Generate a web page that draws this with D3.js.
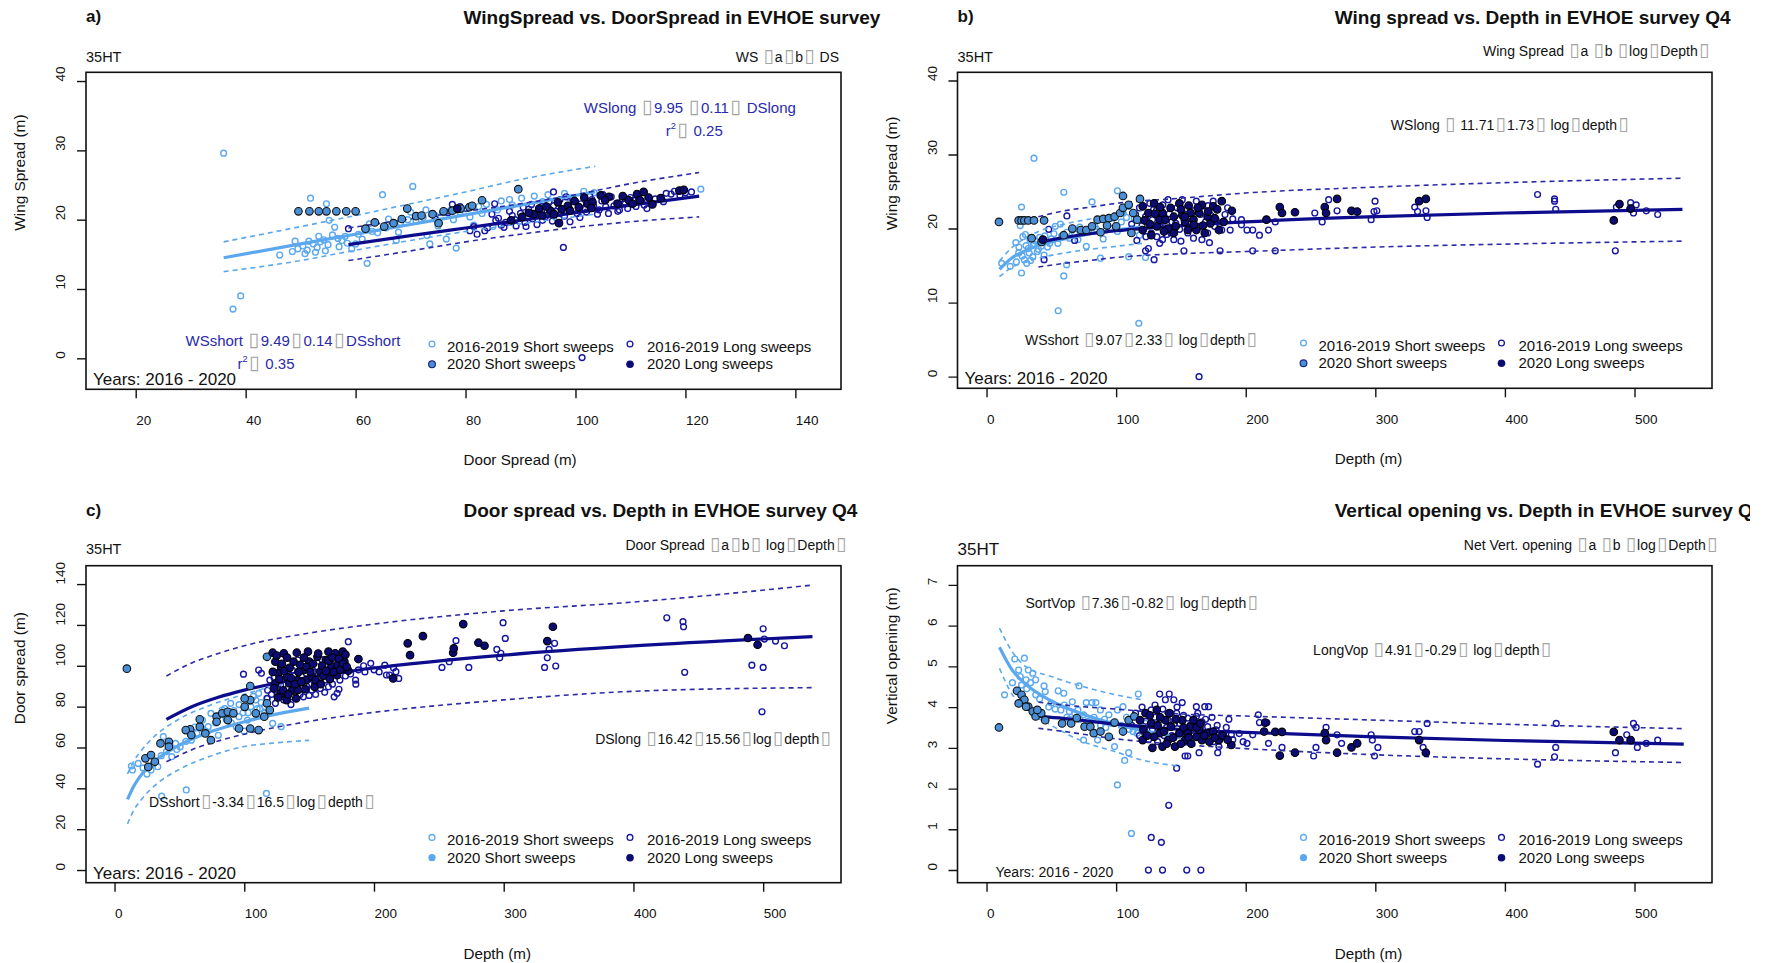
<!DOCTYPE html>
<html>
<head>
<meta charset="utf-8">
<script src="https://cdn.jsdelivr.net/npm/d3@7"></script>
<style>
  body { margin: 0; background: #fff; }
  svg { display: block; font-family: "Liberation Sans", Arial, sans-serif; }
  .tofu { font-family: "DejaVu Sans"; fill: #a3a3a3; font-size: 1.3em; }
</style>
</head>
<body>
<svg id="fig" width="1765" height="963"></svg>
<script>
// ---- ticks
const doorTicks = [20, 40, 60, 80, 100, 120, 140];
const depthTicks = [0, 100, 200, 300, 400, 500];
const wsTicks = [0, 10, 20, 30, 40];
const dsTicks = [0, 20, 40, 60, 80, 100, 120, 140];
const voTicks = [0, 1, 2, 3, 4, 5, 6, 7];

const legendLabels = ['2016-2019 Short sweeps', '2016-2019 Long sweeps', '2020 Short sweeps', '2020 Long sweeps'];

// ---- a) wing spread vs door spread  [door, wing]
const aShort1619 = [[36,29.6],[37.7,7.1],[39.1,9.0],[46.2,14.9],[48.5,15.4],[49.5,15.8],[50.4,16.2],[51.2,15.6],[51.8,23.1],[52.3,16.5],[53.0,16.0],[53.6,16.8],[54.2,17.1],[54.7,22.3],[55.2,19.9],[55.0,16.4],[56.2,18.9],[56.8,17.3],[57.5,17.0],[58.1,17.6],[59.3,15.8],[60.5,17.9],[62.1,13.7],[63.0,18.3],[64.9,23.6],[65.5,18.8],[66.5,19.2],[67.4,17.0],[68.2,19.6],[69.5,20.0],[70.4,24.8],[71.0,19.8],[72.3,20.3],[73.0,17.7],[73.5,16.5],[74.5,20.6],[75.8,21.0],[76.5,17.2],[77.2,21.3],[78.3,15.9],[79.0,21.1],[80.2,21.6],[81.5,19.2],[82.4,21.9],[83.8,22.2],[85.0,19.0],[86.5,22.7],[88.0,22.9],[90.2,23.1],[92.5,23.4],[95.0,23.6],[98.0,23.8],[101.5,24.1],[103.4,23.9],[122.8,24.4],
  [49,16.9],[50.8,15.1],[51.5,16.9],[52.7,15.3],[53.3,17.6],[54.5,15.5],[55.8,17.8],[57,16.1],[58.5,16.6],[60,16.5],[61.2,17.2],[62.5,19.4],[64,18.1],[66,20.1],[67.8,18.2],[70,21.1],[72.8,21.4],[75,19.1],[77.8,20.0],[80.8,20.4],[83,20.9],[85.8,21.4],[88.5,22.1],[94,22.6],[99,23.1]];
const aLong1619 = [[58.7,18.7],[74.5,20.1],[76.8,21.0],[77.6,22.2],[79,21.9],[80.8,18.4],[81.5,19.0],[82.1,17.9],[83.5,18.4],[84,18.8],[84.8,20.8],[85.3,22.3],[85.5,19.9],[86.5,19.2],[87.3,19.6],[88.5,20.6],[89.2,19.1],[90,20.9],[90.8,19.6],[91.5,21.5],[92.2,20.1],[93,19.3],[93.8,21.9],[94.5,20.4],[95.2,22.6],[95.8,19.8],[96,24.0],[96.5,21.2],[97.2,22.9],[97.8,16.0],[98,20.5],[98.8,21.8],[99.5,23.0],[100.3,20.9],[101,22.3],[101.2,0.1],[101.8,21.5],[102.6,23.4],[103.3,22.0],[104,20.8],[104.8,22.7],[105.5,21.9],[106.5,23.3],[107.5,22.4],[107.7,21.2],[108.5,23.0],[109.5,21.6],[110.5,22.8],[111.5,23.4],[112.5,22.1],[116.5,23.8],[117.4,23.7],[118.0,24.1],[120.0,23.9],[121.1,24.0],
  [86,20.2],[87,18.9],[88,21.2],[89,20.0],[90.5,21.8],[91,19.0],[92,22.2],[93.3,20.7],[94,19.9],[94.8,21.4],[96,22.0],[97,20.1],[98.3,23.3],[99,19.7],[100,22.6],[100.8,20.3],[102,21.1],[103,22.9],[104.3,21.4],[105,23.6],[106,20.9],[107,22.0],[108,21.4],[109,22.5],[110,23.2],[111,21.9],[112,22.7],[113,21.6],[114.5,23.0],[116,22.6],[119,23.5]];
const aShort20 = [[49.6,21.2],[51.6,21.2],[53.3,21.2],[54.7,21.2],[56.5,21.2],[58.3,21.2],[60.0,21.2],[61.8,18.7],[63.5,19.6],[65.2,19.0],[66.9,19.5],[68.4,20.1],[69.4,21.6],[71.0,20.5],[72.0,20.6],[74.0,20.8],[75.1,19.5],[76.0,21.2],[77.6,21.3],[79.1,21.6],[80.7,21.8],[81.2,22.0],[83.0,22.8],[89.6,24.4]];
const aLong20 = [[78.5,21.6],[88.3,19.9],[90.3,20.4],[92.4,20.8],[93.4,21.6],[93.9,20.6],[95.4,21.3],[96.1,20.8],[97.0,19.5],[97.5,21.5],[98.6,22.0],[99.0,21.3],[100.6,21.8],[101.6,23.2],[102.2,22.3],[103.1,22.5],[104.6,23.5],[106.1,23.3],[107.7,22.3],[109.7,22.8],[111.2,23.7],[111.7,22.8],[113.3,23.2],[114.0,22.2],[118.9,24.2],[119.7,24.3],
  [91.5,21.0],[94.7,21.9],[96.8,22.5],[99.8,22.7],[102.9,21.7],[105.4,22.8],[108.6,23.4],[110.4,22.3],[112.4,24.0],[115.5,23.1]];
// fitted lines: [x, lower, fit, upper]
const aFitShort = [[36,12.5,14.5,16.8],[50,14.1,16.5,19.0],[60,15.6,17.9,20.6],[70,17.0,19.3,22.3],[80,18.3,20.7,24.0],[90,19.4,22.1,25.8],[103.6,20.8,24.0,27.7]];
const aFitLong = [[58.7,14.1,16.4,18.8],[70,15.5,17.7,20.1],[80,16.8,18.8,21.2],[90,17.9,19.9,22.3],[100,18.9,21.0,23.6],[110,19.7,22.1,25.2],[122.5,20.4,23.4,26.8]];

// ---- b) wing spread vs depth  [depth, wing]
const bShort1619 = [[36.6,29.5],[55.3,8.9],[117.5,7.2],[59.6,24.9],[101,25.1],[81.4,23.6],[59.6,13.6],[27,14.0],[22.6,18.1],[27,22.9],[11.7,15.3],[24.8,16.7],[29.2,15.8],[32.2,17.3],[35.7,16.2],[18.3,14.9],[39.2,16.9],[42.2,17.6],[33.5,18.5],[44.4,16.4],[61.8,15.1],[87.9,16.0],[109.7,16.2],[122.7,16.1],[66.2,19.8],[74.9,19.4],[83.6,20.3],[92.3,19.8],[96.6,20.7],[105.3,22.1],[109.7,23.0],[101,19.6],[70.5,18.5],[77,17.6],[48.7,18.0],[26,20.4],[30,19.2],[37,17.9],[52,19.3],[57,20.6],[64,18.7],[90,18.6],[114,21.4],[118,19.1],
  [23,15.5],[25,17.5],[27.5,16.3],[28,18.9],[30.5,17.7],[31,15.3],[33,16.7],[34,15.7],[36,17.8],[38,18.3],[40,17.2],[41,18.8],[45,19.0],[47,17.5],[50,18.6],[53,20.3],[55,18.0],[58,19.0],[62,19.5],[68,19.3],[72,20.2],[79,19.6],[85,19.9],[95,20.1],[104,20.9],[108,21.5],[112,20.0]];
const bLong1619 = [[164,0],[44.4,15.8],[122.7,17.0],[129.3,15.8],[152.3,17.0],[180.2,17.0],[205.4,17.0],[222.8,17.0],[485.2,17.0],[196.7,21.2],[205.4,19.8],[210.6,19.1],[217.6,19.8],[222.8,20.9],[253.3,22.1],[259,20.9],[270.5,22.4],[264,23.9],[296.8,21.2],[299,22.3],[299.8,23.7],[301.2,22.4],[330.4,22.9],[332.6,22.3],[339.1,22.4],[340,21.5],[425.2,24.6],[438.3,24.0],[439.2,22.6],[438.3,23.7],[486,22.9],[497,23.5],[499.2,22.1],[501.3,23.2],[509.1,22.4],[517.9,21.9],[122.7,21.6],[127.1,19.4],[131.4,18.9],[135.8,18.5],[140.1,23.9],[144.5,18.5],[151,23.9],[155.3,19.4],[159.7,18.7],[166.2,18.5],[170.6,19.4],[177.1,21.2],[181.5,19.8],[188,19.8],[124.9,17.3],[133.6,18.0],[142.3,19.4],[161.9,23.7],[174.9,23.7],[196.7,20.5],[201,19.8],[129,22.6],[137,21.0],[146,20.7],[158,21.6],[168,22.3],[176,20.3],[184,21.9],[62,21.7],[48,19.9],[68,18.4],
  [112,20.6],[115,21.9],[118,22.8],[120,20.4],[123,18.9],[126,23.4],[128,21.2],[131,22.4],[134,20.2],[136,23.2],[139,19.2],[141,22.0],[143,20.9],[147,22.8],[149,19.9],[152,21.4],[154,22.7],[156,20.6],[160,22.4],[163,20.1],[165,21.9],[169,20.9],[171,23.1],[173,21.8],[178,22.7],[180,20.7],[186,22.8],[190,21.3],[116,18.4],[150,18.3],[172,18.1]];
const bShort20 = [[9.6,20.9],[24.8,21.1],[27,21.1],[29.2,21.1],[32.2,21.1],[36.6,21.1],[44.4,21.1],[34.8,18.7],[42.5,18.2],[59.6,19.1],[66.2,20.0],[72.7,19.8],[77,19.8],[81.4,20.3],[85.7,21.2],[90.1,21.3],[94.4,21.4],[98.8,21.6],[103.1,22.1],[105.3,22.8],[109.7,23.2],[113.2,22.1],[116.2,21.2],[105.3,24.4],[118.4,24.0],[111.8,19.4],[88,19.5],[100,20.3],[93,20.4]];
const bLong20 = [[120.5,23.0],[124.9,22.1],[129.3,23.4],[133.6,21.2],[135.8,22.1],[140.1,20.0],[144.5,21.6],[148.8,23.4],[153.2,20.9],[157.5,22.1],[161.9,19.8],[166.2,23.2],[170.6,21.6],[174.9,23.0],[179.3,19.8],[181.5,23.7],[189.3,22.4],[120.5,19.8],[127.1,19.1],[144.5,19.4],[155.3,19.8],[168.4,19.4],[131.4,20.3],[138,21.2],[151,21.8],[159.7,21.2],[164,22.1],[172.7,20.7],[226.3,22.9],[228,22.1],[238,22.2],[261,22.9],[262,22.1],[270.5,24.0],[281.6,22.4],[286,22.3],[333.8,23.7],[339,24.0],[484,21.1],[488.4,23.3],[497,22.7],[43.5,18.5],[216,21.2],
  [122,21.1],[126,20.6],[130,22.0],[134,22.9],[137,19.6],[142,22.8],[146,20.3],[150,22.6],[153,21.6],[156,23.1],[160,20.5],[163,22.8],[167,20.4],[171,22.3],[176,21.4],[178,22.6],[183,20.9]];
const bFitShort = [[10,13.5,14.5,15.6],[20,14.8,16.1,17.5],[30,15.5,17.0,18.7],[40,16.0,17.7,19.6],[60,16.7,18.6,20.6],[80,17.2,19.3,21.3],[100,17.6,19.8,21.9],[120,18.0,20.2,22.4]];
const bFitLong = [[40,14.8,18.1,21.6],[60,15.3,18.8,22.4],[80,15.7,19.3,22.9],[100,16.1,19.7,23.4],[150,16.6,20.4,24.1],[200,16.9,20.9,24.8],[300,17.5,21.6,25.6],[400,17.9,22.1,26.2],[537,18.3,22.6,26.8]];

// ---- c) door spread vs depth  [depth, door]
const cShort1619 = [[13,50.9],[55.3,39.2],[36.3,36.2],[117.1,37.5],[33.3,50.6],[44.1,55.5],[50.6,60.4],[63.5,66.9],[67.8,73.4],[74.3,76.7],[83,78.3],[89.5,81.6],[95.9,75.1],[102.4,73.4],[108.9,83.2],[111.1,86.5],[115.4,76.7],[128.4,70.2],[121.9,71.8],[37.6,65.3],[59.2,63.6],[72.2,70.2],[93.8,70.2],[13.8,49],[18.2,52.2],[28.1,49.0],[25,47],[40,58],[47,62],[55,63],[62,70],[70,68],[78,72],[86,74],[92,78],[99,77],[105,80],[112,79],[118,84],[100,68],[80,66],
  [85,79],[90,72],[96,81],[103,77],[107,85],[110,79],[113,82],[116,80],[68,69],[58,68],[48,59],[36,56],[30,52],[22,50]];
const cLong1619 = [[99.4,95.9],[111.1,97.9],[113.2,96.3],[117.5,84.0],[124,81.6],[130.5,83.2],[137,84.8],[145.6,84.8],[152.1,88.1],[158.6,88.9],[164.9,89.7],[169.3,84.8],[171.6,86.5],[173.7,93],[180.2,111.8],[185.8,93],[197.5,101.2],[208.3,100.3],[209.6,95.5],[216.9,97.1],[219.1,93.8],[252.4,99.2],[258,102],[263.2,112.3],[273.1,99.2],[294.7,108],[296.9,103.9],[297.8,106.1],[299.5,121.1],[301.2,113.4],[331.5,99.2],[333.6,103.9],[335,108],[339.2,111],[340.1,99.9],[425.7,123.5],[438.2,121.6],[438.6,119.1],[439.5,96.8],[491.3,100.3],[499.1,77.5],[500,118.1],[500,99.2],[509.5,112.1],[516.4,109.8],[500.9,113.1],[119.7,93],[137,97.9],[147.8,96.3],[156.4,99.5],[162.9,93],[141.3,102.8],[124,88.1],[171.6,105.2],[128,90.5],[133,96],[150,91],[160,96],[167,100.5],[176,98],
  [118,88],[121,86],[123,94],[126,91],[129,85],[131,99],[134,89.5],[136,81],[138,95],[141,90],[143,86],[146,99],[148,90],[150,85.5],[153,97],[155,86],[157,92],[160,103],[162,87],[165,96],[168,91],[170,98],[173,88.5],[175,102],[178,95],[182,96],[188,98],[192,100],[200,98],[204,97],[212,95.5],[186,91],[193,97],[215,99]];
const cShort20 = [[9.5,98.6],[23.8,54.7],[28.1,56.3],[31.1,53.0],[35.4,62.0],[41.9,62.8],[58.3,68.9],[65.7,70.2],[74.3,63.6],[78.7,75.1],[83,76.7],[87.3,77.5],[91.6,76.7],[95.9,69.3],[100.3,79.9],[104.6,69.3],[108.9,76.7],[111.1,68.5],[115.4,75.1],[117.5,81.6],[119.7,78.3],[104.6,83.2],[100.3,84.0],[117.5,104.4],[104.6,90.1],[65.7,73.8],[54.9,68.5],[78.7,72.6],[87.3,73.4],[70,66.9],[59.2,66.1],[41.9,60.4],[26,50.5]];
const cLong20 = [[121.9,106.4],[124,102],[128.4,99.5],[132.7,94.6],[124,91.4],[128.4,86.5],[132.7,83.2],[137,88.1],[141.3,93],[140.5,106.4],[145.6,97.9],[150,102],[154.3,89.7],[158.6,97.1],[162.9,102.8],[167.2,99.5],[171.6,95.4],[175.9,106.9],[177.2,102],[126.2,96.3],[134.8,91.4],[147.8,93],[156.4,104.4],[164.9,106.9],[170.1,106.1],[149.1,106.9],[130.5,106.1],[141.3,88.1],[152.1,94.6],[180.2,97.6],[188,103.3],[214.8,93.8],[226,111],[227.8,105.2],[237.7,114.5],[261,106.4],[261.5,108.5],[268.8,120.4],[280.5,111.3],[285.2,109.8],[333.6,112.1],[337.9,119.1],[488.3,113.6],[495.7,110.3],
  [122,97],[123,89],[125,105],[126,84.5],[127,93.5],[129,101],[130,88],[131,97.5],[133,104],[134,86],[135,99],[136,94],[138,102],[139,91],[140,84],[142,97],[143,100.5],[144,92],[146,104],[147,88.5],[148,99.5],[151,97],[153,101],[155,93],[157,106],[159,91],[160,100],[161,95],[163,97.5],[165,102.5],[166,93.5],[168,104],[169,97],[172,100.5],[173,103.5],[174,98],[176,101],[178,105.5],[179,99.5]];
const cFitShort = [[10,22.6,34.6,47],[15,29.5,41.3,53.5],[20,34.0,46.1,58.0],[30,40.8,52.8,65],[50,49.3,61.2,74],[75,56.0,67.9,81],[100,60.5,72.6,86],[120,62.0,75.7,89.5],[150,63.5,79.3,93]];
const cFitLong = [[40,53,73.8,95],[60,59,80.1,101.5],[80,63.2,84.6,106],[100,66.5,88.1,109.8],[150,72.8,94.4,116],[200,77.2,98.9,120.4],[300,83.3,105.2,126.9],[400,87.5,109.7,131.2],[538,89.3,114.3,139.5]];

// ---- d) vertical opening vs depth  [depth, opening]
const dShort1619 = [[13.9,4.30],[21.8,5.18],[29.2,5.20],[24.8,4.91],[32.2,4.91],[35.7,4.83],[30.5,4.67],[27,4.54],[37.9,4.67],[44.4,4.52],[45.3,4.38],[55.3,4.40],[59.6,4.34],[71.4,4.52],[66.2,4.13],[77,4.11],[81.4,4.11],[84.4,4.11],[57.4,3.93],[63.9,3.89],[70.5,3.93],[74.9,3.81],[87.9,3.93],[94.4,3.81],[101,3.93],[105.3,4.01],[117.1,4.32],[101,2.09],[106.6,2.69],[109.7,2.88],[98.8,3.03],[74.9,3.19],[85.7,3.19],[111.8,0.90],[122.7,3.60],[116.2,3.36],[50,4.1],[64,3.7],[80,3.6],[92,3.5],[110,3.45],
  [20,4.6],[26,4.75],[31,4.45],[34,4.6],[38,4.3],[41,4.2],[48,4.0],[53,3.95],[60,4.05],[62,3.75],[68,3.85],[72,3.7],[78,3.65],[83,3.75],[88,3.55],[91,3.7],[97,3.6],[104,3.55],[108,3.75],[113,3.4],[119,3.5]];
const dLong1619 = [[124.9,0],[135.8,0],[154.5,0],[165.4,0],[127.1,0.80],[134.9,0.68],[140.6,1.59],[146.7,2.50],[153.2,2.80],[155.3,2.80],[133.6,4.32],[141,4.32],[138,4.18],[144.5,4.18],[151,4.11],[161.9,4.01],[168.4,4.01],[171.4,4.01],[127.1,3.93],[131.4,3.56],[140.1,3.68],[146.7,3.85],[155.3,3.73],[161.9,3.77],[166.2,3.64],[170.6,3.52],[177.1,3.44],[179.3,3.03],[178.4,2.88],[164,2.88],[187,3.70],[188.9,3.32],[201,3.11],[205.4,3.32],[209.7,3.81],[210.6,3.62],[216.3,3.62],[217.6,3.11],[228,3.01],[252.4,2.80],[254.2,3.01],[262,3.50],[270.5,3.32],[274,3.11],[296.8,3.32],[297.7,3.19],[299.4,2.80],[302,3.01],[330.4,3.40],[333.8,3.40],[336.9,3.01],[340,3.60],[425.2,2.60],[438.3,2.78],[439.2,3.01],[439.6,3.60],[485.3,2.88],[494,3.32],[499.2,3.60],[501.3,3.50],[502.2,3.01],[509.1,3.11],[517.9,3.19],[122,3.4],[130,3.75],[137,3.3],[149,3.6],[158,3.45],[174,3.75],[183,3.35],
  [112,3.55],[115,3.85],[118,3.3],[120,4.0],[123,3.65],[125,3.2],[128,3.45],[130,4.05],[132,3.15],[134,3.7],[136,3.95],[139,3.5],[142,3.85],[143,3.3],[145,3.6],[147,4.0],[150,3.35],[152,3.8],[154,3.15],[157,3.55],[160,3.3],[163,3.85],[165,3.5],[167,3.2],[169,3.7],[172,3.4],[175,3.15],[178,3.55],[181,3.3],[185,3.5],[190,3.2],[195,3.35],[198,3.15]];
const dShort20 = [[9.6,3.50],[23.5,4.40],[27,4.30],[29.2,4.18],[32.2,4.01],[35.7,3.89],[37.9,3.77],[42.2,3.85],[45.3,3.68],[58.3,3.60],[65.3,3.60],[69.6,3.73],[75.7,3.52],[80.1,3.52],[82.7,3.36],[87.9,3.40],[94.4,3.27],[98.8,3.62],[105.3,3.40],[109.7,3.68],[114,3.77],[24.8,4.09],[30.5,4.01],[39.2,3.93]];
const dLong20 = [[118.4,3.68],[122.7,3.85],[127.1,3.60],[131.4,3.93],[133.6,3.36],[135.8,3.03],[138,3.68],[142.3,3.52],[145.4,3.03],[148.8,3.36],[153.2,3.19],[157.5,3.52],[161.9,3.27],[166.2,3.19],[170.6,3.36],[179.3,3.19],[188.9,3.07],[120.5,3.19],[129.3,3.27],[140.1,3.19],[151,3.68],[155.3,3.36],[159.7,3.68],[164,3.44],[174.9,3.40],[215,3.62],[222.8,3.39],[226.3,2.81],[228,3.39],[238,2.88],[261,3.36],[262,3.19],[270.5,2.88],[281.6,3.01],[286,3.11],[333.8,3.19],[339,2.88],[484,3.39],[488.4,3.19],[497,3.19],[214.2,3.40],
  [121,3.45],[124,3.3],[126,3.8],[128,3.0],[132,3.55],[134,3.75],[137,3.4],[139,3.1],[141,3.85],[144,3.25],[146,3.7],[150,3.1],[152,3.5],[156,3.25],[158,3.1],[162,3.5],[165,3.6],[168,3.3],[172,3.15],[176,3.25],[182,3.3],[186,3.2]];
const dFitShort = [[10,4.95,5.47,5.94],[20,4.3,4.90,5.35],[30,3.95,4.57,5.0],[50,3.55,4.15,4.75],[75,3.15,3.82,4.5],[100,2.9,3.58,4.3],[120,2.7,3.43,4.18],[150,2.55,3.25,null]];
const dFitLong = [[40,3.48,3.77,4.12],[60,3.40,3.72,4.05],[100,3.22,3.58,3.95],[150,3.08,3.45,3.83],[200,2.98,3.38,3.78],[300,2.83,3.27,3.68],[400,2.73,3.18,3.58],[538,2.64,3.09,3.47]];

// ---- styling
const col = {
  light: '#5ba8ee',
  navy: '#1616a2',
  fill20s: '#4a8fd6',
  fill20l: '#0b0b72',
  fitLong: '#0c0c8c',
  dashLong: '#2b2ba8',
  eqBlue: '#2a2aac'
};

const panels = [
  { left: 86, right: 841, top: 72.3, bottom: 389.3, clipX: [0, 882.5],
    xDom: [10.96, 148.3], yDom: [-4.47, 41.26], xTicks: doorTicks, yTicks: wsTicks,
    tag: 'a)', title: 'WingSpread vs. DoorSpread in EVHOE survey Q4',
    model: 'WS □a□b□ DS', modelDx: -2, modelDy: -10.6, modelSize: 14,
    htDy: -10.6, htSize: 14.5, years: { dx: 7, dy: -4, size: 17 },
    xTitle: 'Door Spread (m)', yTitle: 'Wing Spread (m)',
    pts: [aShort1619, aLong1619, aShort20, aLong20], fits: [aFitShort, aFitLong], leg20short: 'outline',
    notes: [
      { t: 'WSlong □9.95 □0.11□ DSlong', x: 120.8, y: 35.4, a: 'middle', s: 15, c: col.eqBlue },
      { t: '□ 0.25', sup: true, x: 121.6, y: 32.0, a: 'middle', s: 15, c: col.eqBlue },
      { t: 'WSshort □9.49□0.14□DSshort', x: 48.6, y: 1.8, a: 'middle', s: 15, c: col.eqBlue },
      { t: '□ 0.35', sup: true, x: 43.7, y: -1.5, a: 'middle', s: 15, c: col.eqBlue }
    ] },
  { left: 957.5, right: 1712, top: 72.3, bottom: 388.3, clipX: [882.5, 1750],
    xDom: [-22.4, 559.8], yDom: [-1.57, 41.1], xTicks: depthTicks, yTicks: wsTicks,
    tag: 'b)', title: 'Wing spread vs. Depth in EVHOE survey Q4',
    model: 'Wing Spread □a □b □log□Depth□', modelDx: -3, modelDy: -16.5, modelSize: 14,
    htDy: -10.6, htSize: 14.5, years: { dx: 7, dy: -4, size: 17 },
    xTitle: 'Depth (m)', yTitle: 'Wing spread (m)',
    pts: [bShort1619, bLong1619, bShort20, bLong20], fits: [bFitShort, bFitLong], leg20short: 'outline',
    notes: [
      { t: 'WSlong □ 11.71□1.73□ log□depth□', x: 312, y: 33.3, a: 'start', s: 14, c: '#111' },
      { t: 'WSshort □9.07□2.33□ log□depth□', x: 29.7, y: 4.3, a: 'start', s: 14, c: '#111' }
    ] },
  { left: 86, right: 841, top: 565.7, bottom: 882.7, clipX: [0, 882.5],
    xDom: [-22, 560], yDom: [-6.2, 149], xTicks: depthTicks, yTicks: dsTicks,
    tag: 'c)', title: 'Door spread vs. Depth in EVHOE survey Q4',
    model: 'Door Spread □a□b□ log□Depth□', modelDx: 5, modelDy: -15.7, modelSize: 14,
    htDy: -11.7, htSize: 14.5, years: { dx: 7, dy: -4, size: 17 },
    xTitle: 'Depth (m)', yTitle: 'Door spread (m)',
    pts: [cShort1619, cLong1619, cShort20, cLong20], fits: [cFitShort, cFitLong], leg20short: 'plain',
    notes: [
      { t: 'DSlong □16.42□15.56□log□depth□', x: 370.5, y: 61.7, a: 'start', s: 14, c: '#111' },
      { t: 'DSshort□-3.34□16.5□log□depth□', x: 26.6, y: 30.8, a: 'start', s: 14, c: '#111' }
    ] },
  { left: 957.5, right: 1712, top: 565.7, bottom: 882.7, clipX: [882.5, 1750],
    xDom: [-22.4, 559.8], yDom: [-0.31, 7.47], xTicks: depthTicks, yTicks: voTicks,
    tag: '', title: 'Vertical opening vs. Depth in EVHOE survey Q4',
    model: 'Net Vert. opening □a □b □log□Depth□', modelDx: 5, modelDy: -15.7, modelSize: 14,
    htDy: -11, htSize: 17, years: { dx: 38, dy: -6, size: 14 },
    xTitle: 'Depth (m)', yTitle: 'Vertical opening (m)',
    pts: [dShort1619, dLong1619, dShort20, dLong20], fits: [dFitShort, dFitLong], leg20short: 'plain',
    notes: [
      { t: 'SortVop □7.36□-0.82□ log□depth□', x: 30, y: 6.44, a: 'start', s: 14, c: '#111' },
      { t: 'LongVop □4.91□-0.29□ log□depth□', x: 252, y: 5.28, a: 'start', s: 14, c: '#111' }
    ] }
];

const svg = d3.select('#fig');
svg.append('rect').attr('width', 1765).attr('height', 963).attr('fill', '#fff');
const defs = svg.append('defs');

// writes a string into a text element, missing glyphs (□) drawn as tofu boxes
function writeText(sel, str, sup) {
  const fs = +sel.attr('font-size');
  let lift = 0;
  if (sup) {
    sel.append('tspan').text('r');
    sel.append('tspan').attr('dy', -7).attr('font-size', '0.62em').text('2');
    lift = 7;
  }
  let pad = 0;
  str.split('□').forEach((part, i) => {
    if (i > 0) {
      const t = sel.append('tspan').attr('class', 'tofu').text('\u25AF');
      if (lift) { t.attr('dy', lift); lift = 0; }
      const w = t.node().getComputedTextLength();
      pad = Math.max(0, (0.9 * fs - w) / 2);
      t.attr('dx', pad);
    }
    if (part) {
      const s = sel.append('tspan').text(part);
      if (lift) { s.attr('dy', lift); lift = 0; }
      if (i > 0) s.attr('dx', pad);
    }
  });
}

function drawPoints(g, data, x, y, kind) {
  const s = g.append('g').selectAll('circle').data(data).enter().append('circle')
    .attr('cx', d => x(d[0])).attr('cy', d => y(d[1]));
  if (kind === 0) s.attr('r', 2.9).attr('fill', 'none').attr('stroke', col.light).attr('stroke-width', 1.4);
  if (kind === 1) s.attr('r', 2.9).attr('fill', 'none').attr('stroke', col.navy).attr('stroke-width', 1.4);
  if (kind === 2) s.attr('r', 3.8).attr('fill', col.fill20s).attr('stroke', '#111').attr('stroke-width', 1.1);
  if (kind === 3) s.attr('r', 3.8).attr('fill', col.fill20l).attr('stroke', '#000').attr('stroke-width', 1.1);
}

panels.forEach((p, i) => {
  const x = d3.scaleLinear().domain(p.xDom).range([p.left, p.right]);
  const y = d3.scaleLinear().domain(p.yDom).range([p.bottom, p.top]);
  const cx = (p.left + p.right) / 2, cy = (p.top + p.bottom) / 2;

  defs.append('clipPath').attr('id', 'half' + i).append('rect')
    .attr('x', p.clipX[0]).attr('y', 0).attr('width', p.clipX[1] - p.clipX[0]).attr('height', 963);
  defs.append('clipPath').attr('id', 'box' + i).append('rect')
    .attr('x', p.left).attr('y', p.top).attr('width', p.right - p.left).attr('height', p.bottom - p.top);

  const g = svg.append('g').attr('clip-path', `url(#half${i})`);
  const plot = g.append('g').attr('clip-path', `url(#box${i})`);

  // old surveys first
  drawPoints(plot, p.pts[0], x, y, 0);
  drawPoints(plot, p.pts[1], x, y, 1);

  // fitted curves and prediction bands
  const line = d3.line().defined(d => d[1] != null)
    .x(d => x(d[0])).y(d => y(d[1])).curve(d3.curveMonotoneX);
  p.fits.forEach((f, k) => {
    const c = k === 0 ? col.light : col.dashLong;
    [1, 3].forEach(j => {
      plot.append('path').datum(f.map(r => [r[0], r[j]])).attr('d', line)
        .attr('fill', 'none').attr('stroke', c).attr('stroke-width', 1.6).attr('stroke-dasharray', '5,4');
    });
    plot.append('path').datum(f.map(r => [r[0], r[2]])).attr('d', line)
      .attr('fill', 'none').attr('stroke', k === 0 ? col.light : col.fitLong).attr('stroke-width', 3.2);
  });

  // 2020 on top
  drawPoints(plot, p.pts[2], x, y, 2);
  drawPoints(plot, p.pts[3], x, y, 3);

  // box
  g.append('rect').attr('x', p.left).attr('y', p.top)
    .attr('width', p.right - p.left).attr('height', p.bottom - p.top)
    .attr('fill', 'none').attr('stroke', '#111').attr('stroke-width', 1.6);

  // axes
  const xa = g.append('g').attr('transform', `translate(0,${p.bottom})`)
    .call(d3.axisBottom(x).tickValues(p.xTicks).tickSize(9).tickFormat(d3.format('d')));
  xa.select('.domain').remove();
  xa.selectAll('line').attr('stroke', '#111').attr('stroke-width', 1.4);
  xa.selectAll('text').attr('text-anchor', 'start').attr('y', 35.7).attr('dy', null)
    .attr('font-size', 13.5).attr('font-family', '"Liberation Sans", Arial, sans-serif').attr('fill', '#111');

  const ya = g.append('g').attr('transform', `translate(${p.left},0)`)
    .call(d3.axisLeft(y).tickValues(p.yTicks).tickSize(9).tickFormat(d3.format('d')));
  ya.select('.domain').remove();
  ya.selectAll('line').attr('stroke', '#111').attr('stroke-width', 1.4);
  ya.selectAll('text').attr('text-anchor', 'start').attr('x', null).attr('dy', null)
    .attr('transform', 'translate(-21,0) rotate(-90)')
    .attr('font-size', 13.5).attr('font-family', '"Liberation Sans", Arial, sans-serif').attr('fill', '#111');

  // axis titles (anchored at the middle of the box)
  g.append('text').attr('x', cx).attr('y', p.bottom + 76).attr('font-size', 15.2).attr('fill', '#111').text(p.xTitle);
  g.append('text').attr('transform', `translate(${p.left - 61},${cy}) rotate(-90)`)
    .attr('font-size', 15.4).attr('fill', '#111').text(p.yTitle);

  // titles
  if (p.tag) g.append('text').attr('x', p.left).attr('y', p.top - 50)
    .attr('font-size', 17).attr('font-weight', 'bold').attr('fill', '#111').text(p.tag);
  g.append('text').attr('x', cx).attr('y', p.top - 48.5)
    .attr('font-size', 19).attr('font-weight', 'bold').attr('fill', '#111').text(p.title);

  g.append('text').attr('x', p.left).attr('y', p.top + p.htDy)
    .attr('font-size', p.htSize).attr('fill', '#111').text('35HT');
  const mt = g.append('text').attr('x', p.right + p.modelDx).attr('y', p.top + p.modelDy)
    .attr('text-anchor', 'end').attr('font-size', p.modelSize).attr('fill', '#111');
  writeText(mt, p.model);

  g.append('text').attr('x', p.left + p.years.dx).attr('y', p.bottom + p.years.dy)
    .attr('font-size', p.years.size).attr('fill', '#111').text('Years: 2016 - 2020');

  // equations
  p.notes.forEach(n => {
    const t = g.append('text').attr('x', x(n.x)).attr('y', y(n.y))
      .attr('text-anchor', n.a).attr('font-size', n.s).attr('fill', n.c);
    writeText(t, n.t, n.sup);
  });

  // legend
  const lg = g.append('g').attr('transform', `translate(${p.left},${p.bottom})`);
  const legPos = [[346, -45.3, 361, -37.5], [544, -45.3, 561, -37.5], [346, -25, 361, -20], [544, -25, 561, -20]];
  legendLabels.forEach((lab, k) => {
    const [sx, sy, tx, ty] = legPos[k];
    const c = lg.append('circle').attr('cx', sx).attr('cy', sy);
    if (k === 0) c.attr('r', 2.9).attr('fill', 'none').attr('stroke', col.light).attr('stroke-width', 1.3);
    if (k === 1) c.attr('r', 2.9).attr('fill', 'none').attr('stroke', col.navy).attr('stroke-width', 1.3);
    if (k === 2) {
      if (p.leg20short === 'outline') c.attr('r', 3.4).attr('fill', col.fill20s).attr('stroke', '#1a2a80').attr('stroke-width', 1.2);
      else c.attr('r', 3.6).attr('fill', col.light);
    }
    if (k === 3) c.attr('r', 3.8).attr('fill', col.fill20l);
    lg.append('text').attr('x', tx).attr('y', ty).attr('font-size', 15).attr('fill', '#111').text(lab);
  });
});
</script>
</body>
</html>
